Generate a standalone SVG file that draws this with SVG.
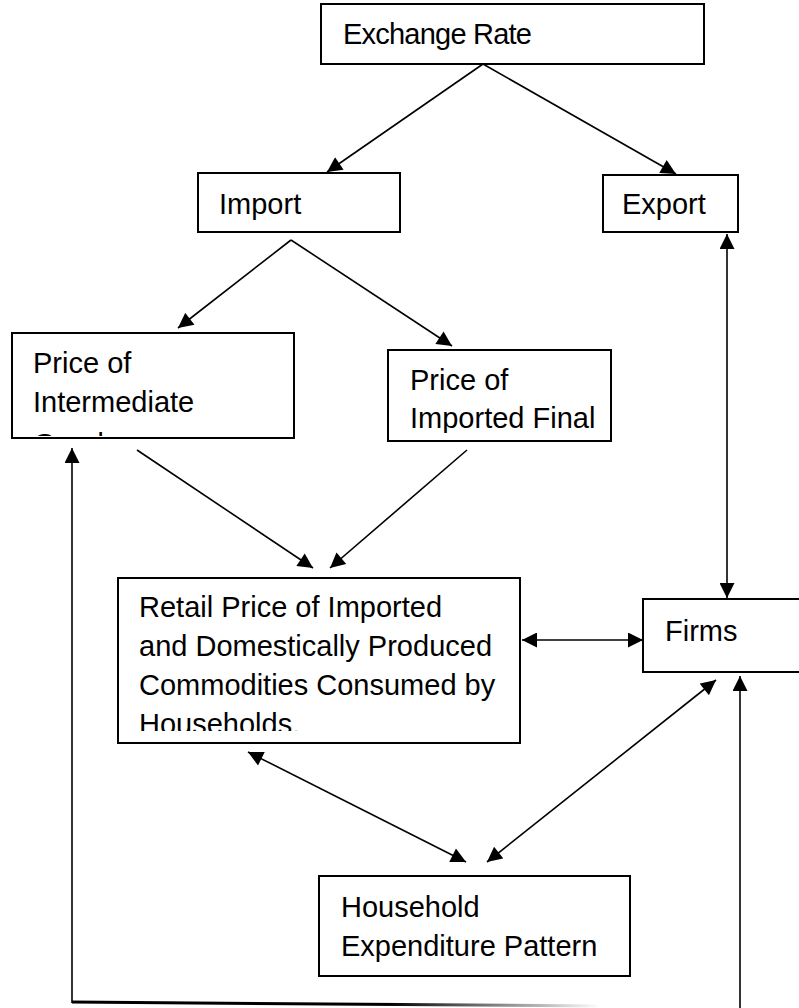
<svg xmlns="http://www.w3.org/2000/svg" width="799" height="1008" viewBox="0 0 799 1008">
<style>
.box{fill:#fff;stroke:#000;stroke-width:2}
.t{font-family:"Liberation Sans",Arial,sans-serif;font-size:29px;fill:#000}
.c{fill:none;stroke:#000;stroke-width:1.6}
</style>
<defs>
<marker id="ah" viewBox="0 0 10 10" refX="10" refY="5" markerWidth="16" markerHeight="15" markerUnits="userSpaceOnUse" orient="auto-start-reverse">
<path d="M0,0 L10,5 L0,10 z" fill="#000"/>
</marker>
<linearGradient id="fade" gradientUnits="userSpaceOnUse" x1="72" y1="0" x2="600" y2="0">
<stop offset="0" stop-color="#000"/>
<stop offset="0.6" stop-color="#000"/>
<stop offset="1" stop-color="#000" stop-opacity="0"/>
</linearGradient>
<clipPath id="cpInt"><rect x="13" y="334" width="280" height="102"/></clipPath>
<clipPath id="cpFin"><rect x="389" y="351" width="221" height="82"/></clipPath>
<clipPath id="cpRet"><rect x="119" y="579" width="400" height="152"/></clipPath>
</defs>

<g id="connectors">
<line class="c" x1="483" y1="64" x2="327" y2="172" marker-end="url(#ah)"/>
<line class="c" x1="483" y1="64" x2="676" y2="174" marker-end="url(#ah)"/>
<line class="c" x1="291" y1="240" x2="178" y2="328" marker-end="url(#ah)"/>
<line class="c" x1="291" y1="240" x2="452" y2="346" marker-end="url(#ah)"/>
<line class="c" x1="137" y1="450" x2="313" y2="568" marker-end="url(#ah)"/>
<line class="c" x1="467" y1="450" x2="330" y2="568" marker-end="url(#ah)"/>
<line class="c" x1="727" y1="234" x2="727" y2="598" marker-start="url(#ah)" marker-end="url(#ah)"/>
<line class="c" x1="522" y1="640" x2="643" y2="640" marker-start="url(#ah)" marker-end="url(#ah)"/>
<line class="c" x1="248" y1="752" x2="466" y2="862" marker-start="url(#ah)" marker-end="url(#ah)"/>
<line class="c" x1="716" y1="680" x2="487" y2="862" marker-start="url(#ah)" marker-end="url(#ah)"/>
<line class="c" x1="72" y1="1003" x2="72" y2="448" marker-end="url(#ah)"/>
<path d="M72,1002 L600,1006" fill="none" stroke="url(#fade)" stroke-width="3"/>
<line class="c" x1="740" y1="1008" x2="740" y2="676" marker-end="url(#ah)"/>
</g>

<g id="exchange-rate">
<rect class="box" x="321" y="4" width="383" height="60"/>
<text class="t" x="343" y="44" textLength="189">Exchange Rate</text>
</g>

<g id="import">
<rect class="box" x="198" y="173" width="202" height="59"/>
<text class="t" x="219" y="214">Import</text>
</g>

<g id="export">
<rect class="box" x="603" y="175" width="135" height="57"/>
<text class="t" x="622" y="214">Export</text>
</g>

<g id="price-intermediate">
<rect class="box" x="12" y="333" width="282" height="105"/>
<g clip-path="url(#cpInt)">
<text class="t" x="33" y="373">Price of</text>
<text class="t" x="33" y="412">Intermediate</text>
<text class="t" x="33" y="454">Goods</text>
</g>
</g>

<g id="price-imported-final">
<rect class="box" x="388" y="350" width="223" height="91"/>
<g clip-path="url(#cpFin)">
<text class="t" x="410" y="390">Price of</text>
<text class="t" x="410" y="428">Imported Final</text>
</g>
</g>

<g id="retail-price">
<rect class="box" x="118" y="578" width="402" height="165"/>
<g clip-path="url(#cpRet)">
<text class="t" x="139" y="617">Retail Price of Imported</text>
<text class="t" x="139" y="656">and Domestically Produced</text>
<text class="t" x="139" y="695">Commodities Consumed by</text>
<text class="t" x="139" y="734">Households.</text>
</g>
</g>

<g id="firms">
<rect class="box" x="643" y="599" width="170" height="73"/>
<text class="t" x="665" y="641">Firms</text>
</g>

<g id="household">
<rect class="box" x="319" y="876" width="311" height="100"/>
<text class="t" x="341" y="917">Household</text>
<text class="t" x="341" y="956">Expenditure Pattern</text>
</g>
</svg>
